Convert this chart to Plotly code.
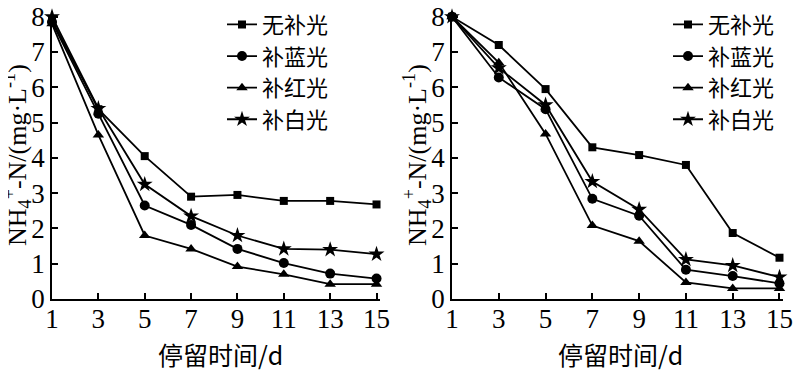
import plotly.graph_objects as go

days = [1, 3, 5, 7, 9, 11, 13, 15]
series_names = ["无补光", "补蓝光", "补红光", "补白光"]

# Left panel values (NH4+-N, mg/L)
left_none = [7.9, 5.38, 4.05, 2.9, 2.95, 2.78, 2.78, 2.68]
left_blue = [7.85, 5.25, 2.65, 2.1, 1.42, 1.02, 0.72, 0.58]
left_red = [7.8, 4.65, 1.8, 1.42, 0.92, 0.7, 0.42, 0.42]
left_white = [8.0, 5.4, 3.25, 2.35, 1.8, 1.42, 1.4, 1.27]

# Right panel values
right_none = [8.0, 7.2, 5.95, 4.3, 4.08, 3.8, 1.87, 1.17]
right_blue = [8.0, 6.28, 5.38, 2.84, 2.36, 0.83, 0.65, 0.44]
right_red = [8.0, 6.7, 4.68, 2.08, 1.64, 0.47, 0.3, 0.3]
right_white = [8.0, 6.55, 5.5, 3.33, 2.54, 1.12, 0.95, 0.62]

x_ticks = [1, 3, 5, 7, 9, 11, 13, 15]
y_ticks = [0, 1, 2, 3, 4, 5, 6, 7, 8]
x_title = "停留时间/d"
y_title = "NH<sub>4</sub><sup>+</sup>-N/(mg·L<sup>-1</sup>)"

symbols = ["square", "circle", "triangle-up", "star"]
sizes = [8, 10, 10, 12]

FONT = "Liberation Serif, Times New Roman, Noto Sans CJK SC, serif"
CJK = "Noto Sans CJK SC, Liberation Serif, serif"

fig = go.Figure()
panels = [
    ([left_none, left_blue, left_red, left_white], "x", "y", "legend"),
    ([right_none, right_blue, right_red, right_white], "x2", "y2", "legend2"),
]
for vals, xa, ya, lg in panels:
    for name, v, sym, sz in zip(series_names, vals, symbols, sizes):
        fig.add_trace(go.Scatter(
            x=days, y=v, name=name, mode="lines+markers",
            xaxis=xa, yaxis=ya, legend=lg,
            line=dict(color="black", width=1.8),
            marker=dict(symbol=sym, size=sz, color="black"),
            cliponaxis=False,
        ))

# page has an 8px body margin, so the figure is offset by 8px
W, H = 801, 381
l, r, t, b = 44, 26, 7, 90
pw = W - l - r
ph = H - t - b

axis_common = dict(
    showline=True, linecolor="black", linewidth=1.8,
    ticks="inside", ticklen=6, tickwidth=1.8, tickcolor="black",
    showgrid=False, zeroline=False, automargin=False,
    ticklabeloverflow="allow",
    tickfont=dict(family=FONT, size=27, color="black"),
)

legend_common = dict(
    xanchor="left", yanchor="top",
    font=dict(family=CJK, size=22, color="black"),
    bgcolor="rgba(0,0,0,0)", itemwidth=30, tracegroupgap=0,
)

annotations = []
for xc in [(212 - l) / pw, (612 - l) / pw]:
    annotations.append(dict(
        text=x_title, xref="paper", yref="paper", x=xc, y=0,
        xanchor="center", yanchor="middle", yshift=-55, showarrow=False,
        font=dict(family=CJK, size=25, color="black"),
    ))
for xc in [(9 - l) / pw, (409 - l) / pw]:
    annotations.append(dict(
        text=y_title, xref="paper", yref="paper", x=xc, y=(291 - 147) / ph,
        xanchor="center", yanchor="middle", textangle=-90, showarrow=False,
        font=dict(family=FONT, size=26, color="black"),
    ))

fig.update_layout(
    width=W, height=H,
    margin=dict(l=l, r=r, t=t, b=b, autoexpand=False),
    paper_bgcolor="white", plot_bgcolor="white",
    xaxis=dict(domain=[0, (372 - l) / pw], range=[1, 15.15], tickvals=x_ticks,
               ticklabelstandoff=-5, **axis_common),
    yaxis=dict(domain=[0, 1], range=[0, 8.05], tickvals=y_ticks,
               ticklabelstandoff=0, **axis_common),
    xaxis2=dict(domain=[(444 - l) / pw, 1], range=[1, 15.15], tickvals=x_ticks,
                anchor="y2", ticklabelstandoff=-5, **axis_common),
    yaxis2=dict(domain=[0, 1], range=[0, 8.05], tickvals=y_ticks,
                anchor="x2", ticklabelstandoff=0, **axis_common),
    legend=dict(x=(214 - l) / pw, y=1.04, **legend_common),
    legend2=dict(x=(660 - l) / pw, y=1.04, **legend_common),
    annotations=annotations,
    showlegend=True,
)

fig.write_html("out.html")
